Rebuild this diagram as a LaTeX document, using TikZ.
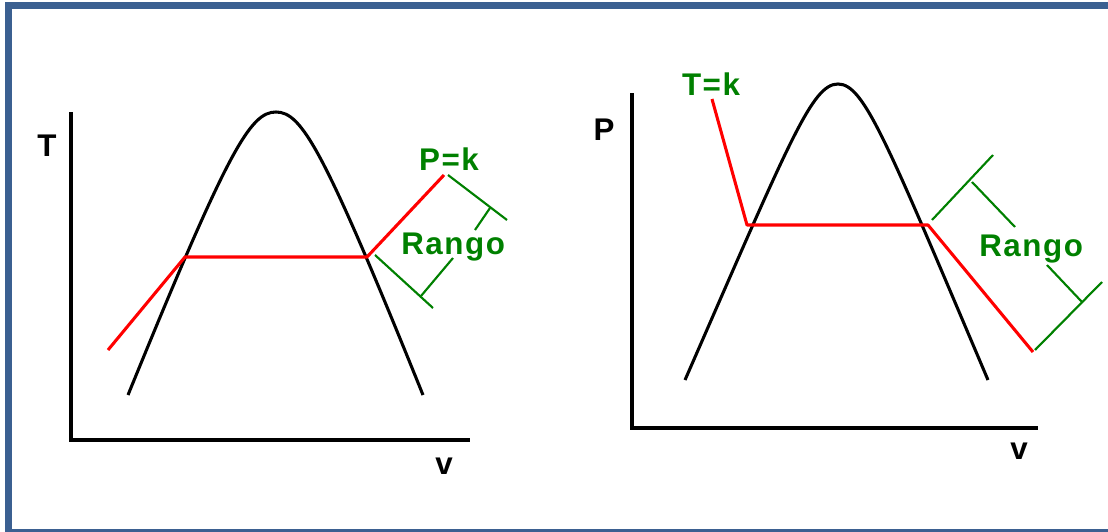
\documentclass[tikz,border=0pt]{standalone}
\usepackage{fontspec}
\setmainfont{Liberation Sans}
\definecolor{frameblue}{RGB}{59,96,145}
\definecolor{lblgreen}{RGB}{0,128,0}
\begin{document}
\begin{tikzpicture}[x=0.75pt,y=-0.75pt,
  axis/.style={line width=2.4pt,black},
  dome/.style={line width=2.3pt,black},
  proc/.style={line width=2.3pt,red},
  brk/.style={line width=1.6pt,lblgreen},
  lbl/.style={font=\fontsize{23.5}{26}\selectfont\bfseries\addfontfeature{LetterSpace=5},inner sep=0pt},
  glbl/.style={lbl,text=lblgreen}]
\useasboundingbox (0,0) rectangle (1108,532);
% frame
\fill[frameblue] (5,2) rectangle (1108,9);
\fill[frameblue] (5,2) rectangle (12,532);
\fill[frameblue] (5,529) rectangle (1108,532);

% ---------- left chart (T-v) ----------
\coordinate (lo) at (71,440);
\coordinate (ly) at (71,112);
\coordinate (lx) at (470,440);
\draw[axis] (ly) -- (lo) -- (lx);
\node[lbl] (lT) at (47,146) {T};
\node[lbl] (lv) at (444,466) {v};
\coordinate (lb1) at (128,395);
\coordinate (ltop) at (276,112);
\coordinate (lb2) at (423,395);
\draw[dome] (lb1) .. controls (228,150) and (250,112) .. (ltop)
  .. controls (302,112) and (324,150) .. (lb2);
\coordinate (lr0) at (108,350);
\coordinate (lr1) at (185,257);
\coordinate (lr2) at (367,257);
\coordinate (lr3) at (444,175);
\draw[proc,line join=round] (lr0) -- (lr1) -- (lr2) -- (lr3);
\node[glbl] (lPk) at (449,159) {P=k};
\node[glbl,anchor=base west] (lR) at (401,254) {Rango};
% brackets
\coordinate (lu1) at (448,175);
\coordinate (lu2) at (507,220);
\coordinate (lum) at (490,208);
\coordinate (lut) at (475,230);
\draw[brk] (lu1) -- (lu2);
\draw[brk] (lum) -- (lut);
\coordinate (ll1) at (375,255);
\coordinate (ll2) at (433,308);
\coordinate (llm) at (421,296);
\coordinate (llt) at (453,258);
\draw[brk] (ll1) -- (ll2);
\draw[brk] (llm) -- (llt);

% ---------- right chart (P-v) ----------
\coordinate (ro) at (632,428);
\coordinate (ry) at (632,93);
\coordinate (rx) at (1038,428);
\draw[axis] (ry) -- (ro) -- (rx);
\node[lbl] (rP) at (604,130) {P};
\node[lbl] (rv) at (1019,451) {v};
\coordinate (rb1) at (685,380);
\coordinate (rtop) at (838,84);
\coordinate (rb2) at (988,380);
\draw[dome] (rb1) .. controls (790,140) and (812,84) .. (rtop)
  .. controls (864,84) and (886,140) .. (rb2);
\coordinate (rr0) at (712,99);
\coordinate (rr1) at (747,225);
\coordinate (rr2) at (928,225);
\coordinate (rr3) at (1033,352);
\draw[proc,line join=round] (rr0) -- (rr1) -- (rr2) -- (rr3);
\node[glbl] (rTk) at (711,84) {T=k};
\node[glbl,anchor=base west] (rR) at (979,256) {Rango};
\coordinate (ru1) at (932,220);
\coordinate (ru2) at (993,155);
\coordinate (rum) at (972,182);
\coordinate (rut) at (1015,227);
\draw[brk] (ru1) -- (ru2);
\draw[brk] (rum) -- (rut);
\coordinate (rl1) at (1035,350);
\coordinate (rl2) at (1102,282);
\coordinate (rlm) at (1082,302);
\coordinate (rlt) at (1047,265);
\draw[brk] (rl1) -- (rl2);
\draw[brk] (rlm) -- (rlt);
\end{tikzpicture}
\end{document}
